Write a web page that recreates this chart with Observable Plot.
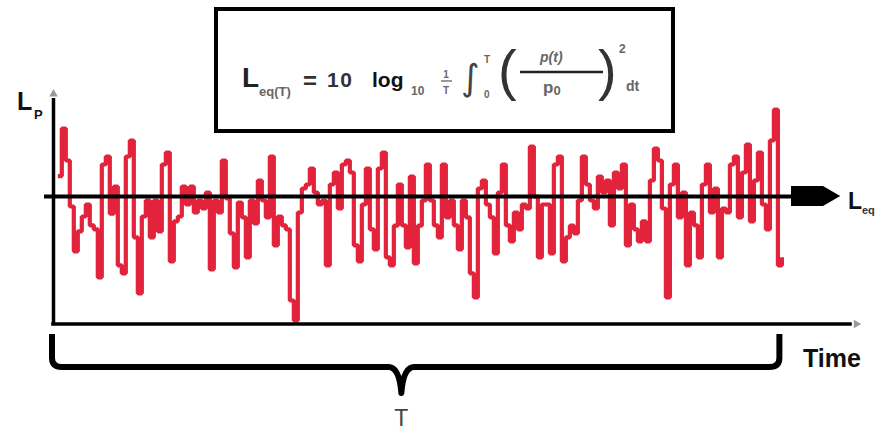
<!DOCTYPE html>
<html><head><meta charset="utf-8">
<script src="https://cdn.jsdelivr.net/npm/d3@7"></script>
<script src="https://cdn.jsdelivr.net/npm/@observablehq/plot@0.6"></script>
<style>
body{margin:0;background:#fff;}
#wrap{position:relative;width:875px;height:431px;overflow:hidden;}
</style></head><body><div id="wrap"></div>
<script>
// Sound pressure level samples (dB), one per time step
const levels = [
 75.1, 87.0, 79.0, 67.5, 56.3, 61.3, 65.0, 68.0, 62.8, 61.8,
 49.8, 78.0, 80.0, 65.7, 72.5, 52.8, 50.8, 80.0, 84.0, 59.8,
 45.8, 65.0, 69.0, 59.8, 69.0, 61.3, 78.0, 81.0, 53.8, 63.8,
 65.0, 72.5, 68.0, 72.5, 66.0, 69.0, 67.0, 71.0, 51.8, 69.0,
 66.0, 79.0, 69.5, 60.8, 52.3, 68.5, 64.8, 54.8, 69.0, 63.3,
 74.0, 69.0, 64.8, 80.0, 57.8, 65.0, 62.8, 61.8, 44.0, 39.0,
 66.0, 72.0, 73.0, 77.0, 71.0, 68.0, 69.0, 52.8, 73.0, 76.0,
 67.0, 78.0, 79.0, 76.0, 57.8, 53.8, 68.0, 77.0, 61.8, 56.8,
 77.0, 81.0, 54.8, 52.8, 62.7, 73.0, 62.8, 57.3, 75.0, 53.3,
 62.7, 69.0, 78.0, 69.0, 62.8, 59.8, 78.0, 64.8, 69.0, 62.8,
 56.8, 69.0, 64.8, 50.8, 44.8, 72.0, 74.0, 68.0, 64.8, 55.8,
 71.0, 78.0, 62.8, 58.8, 66.0, 61.8, 68.0, 67.0, 82.5, 70.0,
 54.8, 68.0, 68.0, 55.8, 78.0, 80.0, 53.8, 59.8, 62.7, 60.8,
 69.0, 80.0, 73.0, 69.0, 67.0, 75.0, 71.0, 74.0, 62.8, 76.0,
 72.0, 78.0, 57.8, 68.0, 61.8, 58.8, 63.8, 58.8, 74.0, 82.0,
 79.0, 67.0, 44.8, 73.0, 78.0, 64.8, 71.0, 52.8, 66.0, 62.8,
 54.8, 73.0, 78.0, 66.0, 72.0, 54.8, 67.0, 66.0, 78.0, 80.0,
 64.8, 76.0, 83.0, 63.8, 74.0, 81.0, 68.0, 61.8, 84.0, 91.7,
 52.8, 54.8
];
const times = levels.map((_, i) => i);           // time step index
const leqLevel = 70;                              // equivalent level Leq
const axisLabels = {y: "L", ySub: "P", x: "Time", period: "T", leq: "L", leqSub: "eq"};
const braceTipTime = 86;                          // where the brace points

const data = levels.map((L, i) => ({t: times[i], L}));
const xDomain = [-1.075, 199.4];
const yDomain = [38.125, 97];
const red = "#e3233c";

const arrowHead = [
  {t: 183.4, lo: leqLevel - 2.5, hi: leqLevel + 2.5},
  {t: 191.4, lo: leqLevel - 2.5, hi: leqLevel + 2.5},
  {t: 195.7, lo: leqLevel, hi: leqLevel}
];

const plot = Plot.plot({
  width: 875, height: 431,
  x: {domain: xDomain, range: [53, 855], axis: null},
  y: {domain: yDomain, range: [323.5, 88], axis: null},
  marks: [
    Plot.line(data, {x: "t", y: "L", curve: "step-after", stroke: red, strokeWidth: 4.2,
      strokeLinejoin: "miter", strokeLinecap: "butt"}),
    Plot.ruleY([{y: leqLevel, x1: xDomain[0] - 2.25, x2: 183.4}], {y: "y", x1: "x1", x2: "x2", stroke: "#000", strokeWidth: 4}),
    Plot.areaY(arrowHead, {x: "t", y1: "lo", y2: "hi", fill: "#000", curve: "linear"}),
    Plot.ruleX([{x: xDomain[0], y1: yDomain[0] - 0.45, y2: 94.5}], {x: "x", y1: "y1", y2: "y2", stroke: "#000", strokeWidth: 3.5}),
    Plot.ruleY([{y: yDomain[0], x1: xDomain[0] - 0.45, x2: 198.6}], {y: "y", x1: "x1", x2: "x2", stroke: "#000", strokeWidth: 3.5}),
    Plot.dot([{t: xDomain[0], L: 95.6}], {x: "t", y: "L", symbol: "triangle", r: 3.2, fill: "#999", stroke: "none"}),
    Plot.dot([{t: 199.6, L: yDomain[0]}], {x: "t", y: "L", symbol: "triangle", r: 3.2, rotate: 90, fill: "#999", stroke: "none"})
  ]
});

document.getElementById("wrap").appendChild(plot);
const svg = d3.select(plot);
const sx = plot.scale("x");
const FONT = "'Liberation Sans Narrow','Liberation Sans',Arial,sans-serif";
const FONT2 = "'Liberation Sans',Arial,sans-serif";

function txt(g, x, y, s, size, opts = {}) {
  const t = g.append("text").attr("x", x).attr("y", y)
    .attr("text-anchor", opts.anchor || "start")
    .style("font-family", opts.family || FONT2)
    .style("font-size", size + "px")
    .style("font-weight", opts.weight || "bold")
    .style("font-style", opts.italic ? "italic" : "normal")
    .style("fill", opts.fill || "#222")
    .text(s);
  if (opts.ls) t.style("letter-spacing", opts.ls + "px");
  return t;
}

// Axis labels
const lab = svg.append("g");
txt(lab, 17, 110, axisLabels.y, 25, {family: FONT, fill: "#111"});
txt(lab, 34, 119, axisLabels.ySub, 13, {family: FONT, fill: "#111"});
txt(lab, 803, 367, axisLabels.x, 25, {family: FONT, fill: "#111"});
txt(lab, sx.apply(braceTipTime), 426, axisLabels.period, 23, {family: FONT, fill: "#444", anchor: "middle", weight: "normal"});
txt(lab, 848, 209, axisLabels.leq, 23, {family: FONT, fill: "#111"});
txt(lab, 862, 214, axisLabels.leqSub, 11, {family: FONT, fill: "#333"});

// Brace under the measurement period T
const bx0 = sx.apply(xDomain[0]) - 1, bx1 = sx.apply(times[times.length - 1]) - 2, btip = sx.apply(braceTipTime);
const yTop = 334, yBar = 367, yTip = 393;
svg.append("path")
  .attr("d", `M${bx0},${yTop} L${bx0},${yBar - 9} Q${bx0},${yBar} ${bx0 + 10},${yBar} L${btip - 13},${yBar} Q${btip - 2},${yBar} ${btip},${yTip} Q${btip + 2},${yBar} ${btip + 13},${yBar} L${bx1 - 10},${yBar} Q${bx1},${yBar} ${bx1},${yBar - 9} L${bx1},${yTop}`)
  .attr("fill", "none").attr("stroke", "#000").attr("stroke-width", 6).attr("stroke-linejoin", "round");

// Formula box
const fg = svg.append("g");
fg.append("rect").attr("x", 216).attr("y", 9).attr("width", 457).attr("height", 122)
  .attr("fill", "#fff").attr("stroke", "#000").attr("stroke-width", 4);
txt(fg, 242, 87, "L", 28, {fill: "#222"});
txt(fg, 259, 96, "eq(T)", 13, {fill: "#666"});
txt(fg, 303, 89, "=", 24, {fill: "#333"});
txt(fg, 327, 87, "10", 21, {fill: "#333", ls: 1.5});
txt(fg, 372, 87, "log", 21, {fill: "#111"});
txt(fg, 411, 95, "10", 12, {fill: "#666"});
txt(fg, 446, 78, "1", 10, {fill: "#666", anchor: "middle"});
fg.append("line").attr("x1", 441).attr("x2", 452).attr("y1", 81).attr("y2", 81).attr("stroke", "#777").attr("stroke-width", 1.5);
txt(fg, 446, 94, "T", 10, {fill: "#666", anchor: "middle"});
txt(fg, 461, 90, "∫", 36, {family: "'DejaVu Sans',sans-serif", weight: "normal", fill: "#444"});
txt(fg, 484, 63, "T", 10, {fill: "#666"});
txt(fg, 484, 98, "0", 10, {fill: "#666"});
txt(fg, 498, 89, "(", 56, {weight: "normal", fill: "#333"});
fg.append("line").attr("x1", 520).attr("x2", 603).attr("y1", 72).attr("y2", 72).attr("stroke", "#222").attr("stroke-width", 2.5);
txt(fg, 540, 62, "p(t)", 14, {italic: true, fill: "#666"});
const p0 = txt(fg, 543, 93, "p", 17, {fill: "#666"});
p0.append("tspan").attr("dy", 2).style("font-size", "13px").text("0");
txt(fg, 598, 89, ")", 56, {weight: "normal", fill: "#333"});
txt(fg, 619, 53, "2", 12, {fill: "#666"});
txt(fg, 626, 91, "dt", 14, {fill: "#666"});
</script>
</body></html>
